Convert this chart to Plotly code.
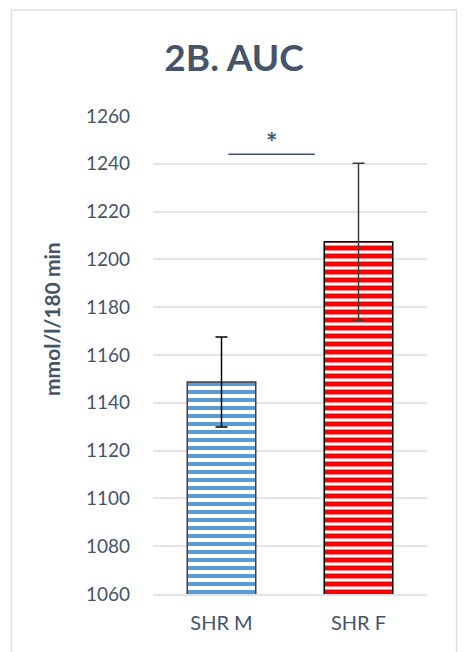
import plotly.graph_objects as go

# Group names, mean AUC and error (SD/SEM) values
categories = ["SHR M", "SHR F"]
auc_means = [1148.7, 1207.4]
auc_errors = [18.8, 32.8]
y_ticks = [1060, 1080, 1100, 1120, 1140, 1160, 1180, 1200, 1220, 1240, 1260]

# Significance marker between the two groups
sig_label = "*"
sig_level = 1244

W, H = 467, 652
L, R, T, B = 153, 40, 116, 58
PW, PH = W - L - R, H - T - B

def px_x(px):
    return (px - L) / PW

def px_y(py):
    return (H - B - py) / PH

TEXT = "#44546A"
GRID = "#E1E4EA"
FONT = "Lato, 'Open Sans', sans-serif"

fill_colors = ["#5B9BD5", "#FF0000"]
edge_colors = ["#3F3F3F", "#000000"]
err_colors = ["#000000", "#3A3A3A"]
solidities = [0.5, 0.62]

fig = go.Figure()
for i, cat in enumerate(categories):
    fig.add_trace(go.Bar(
        x=[cat], y=[auc_means[i]],
        width=0.5,
        marker=dict(
            color="white",
            line=dict(color=edge_colors[i], width=1.5),
            pattern=dict(shape="-", fgcolor=fill_colors[i], bgcolor="white",
                         fgopacity=1, size=8, solidity=solidities[i],
                         fillmode="overlay"),
        ),
        error_y=dict(type="data", array=[auc_errors[i]], visible=True,
                     color=err_colors[i], thickness=1.5, width=6),
        showlegend=False,
    ))

# significance bracket and asterisk
fig.add_shape(type="line", xref="x", yref="y", x0=0.05, x1=0.68,
              y0=sig_level, y1=sig_level, line=dict(color=TEXT, width=1.5))
fig.add_annotation(xref="x", yref="y", x=0.365, y=sig_level, text="<b>" + sig_label + "</b>",
                   showarrow=False, xanchor="center", yanchor="bottom", yshift=-6,
                   font=dict(family=FONT, size=27, color=TEXT))

# outer chart frame
fig.add_shape(type="rect", xref="paper", yref="paper",
              x0=px_x(11.5), x1=px_x(456.5), y0=px_y(700), y1=px_y(10),
              line=dict(color="#DADFE8", width=1.5), fillcolor="rgba(0,0,0,0)",
              layer="below")

# y-axis title
fig.add_annotation(xref="paper", yref="paper", x=px_x(51), y=px_y(319),
                   xanchor="center", yanchor="middle",
                   text="<b>mmol/l/180 min</b>", textangle=-90, showarrow=False,
                   font=dict(family=FONT, size=21, color=TEXT))

fig.update_layout(
    width=W, height=H,
    margin=dict(l=L, r=R, t=T, b=B, pad=0),
    paper_bgcolor="white", plot_bgcolor="white",
    bargap=0.5,
    title=dict(text="<b>2B. AUC</b>", x=234 / W, xanchor="center",
               y=1 - 58 / H, yanchor="middle", yref="container",
               font=dict(family=FONT, size=37, color=TEXT)),
    font=dict(family=FONT, color=TEXT),
)
fig.update_yaxes(range=[1060, 1260], tickvals=y_ticks, showgrid=True,
                 gridcolor=GRID, gridwidth=1.5, zeroline=False, showline=False,
                 ticks="", ticklabelstandoff=22,
                 tickfont=dict(family=FONT, size=19, color=TEXT))
fig.update_xaxes(showline=True, linecolor=GRID, linewidth=1.5, ticks="",
                 ticklabelstandoff=10,
                 tickfont=dict(family=FONT, size=20, color=TEXT))

fig.write_html("out.html")
